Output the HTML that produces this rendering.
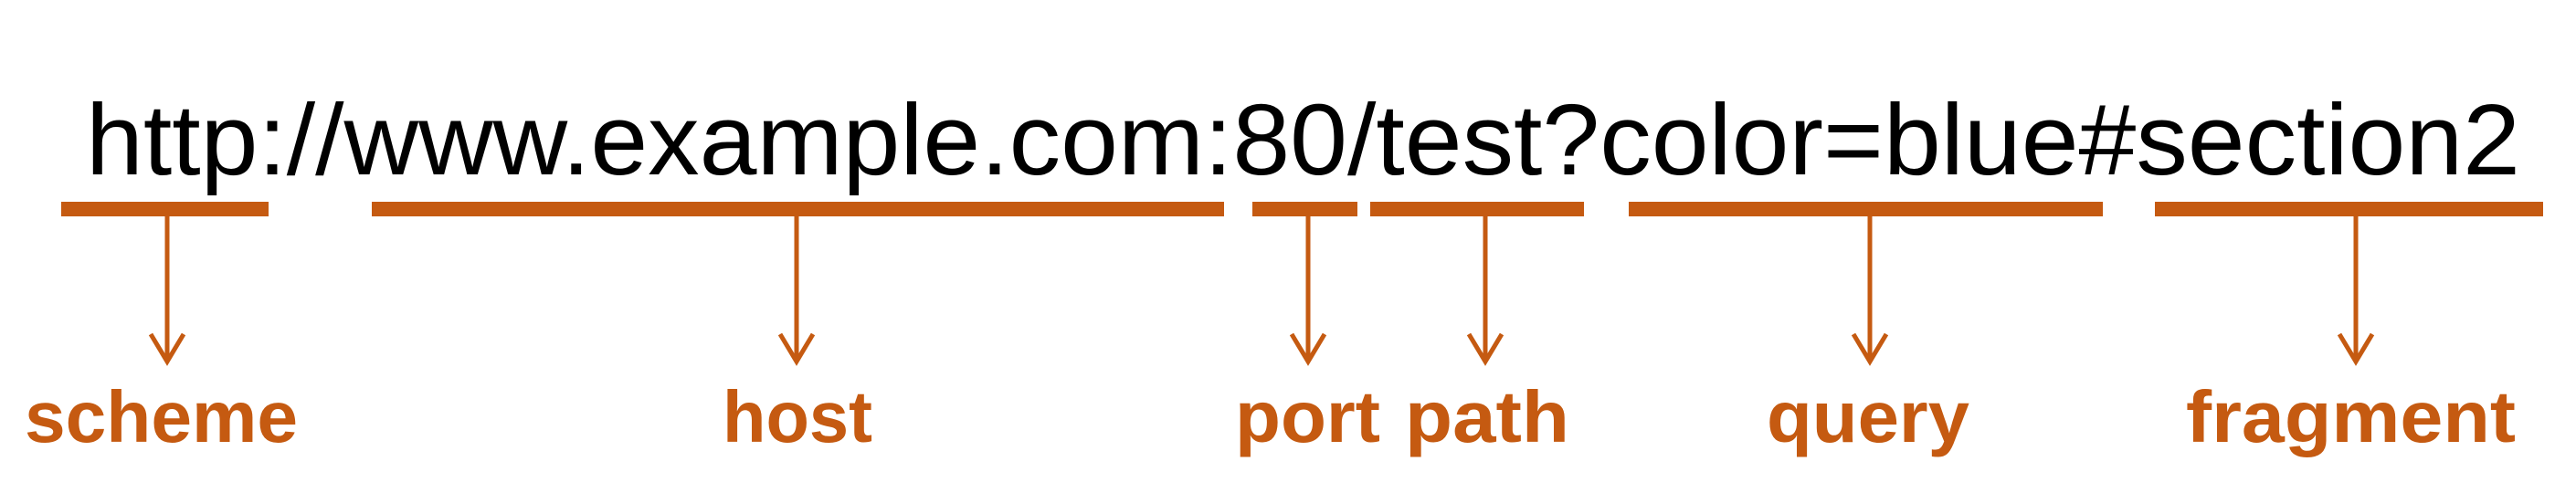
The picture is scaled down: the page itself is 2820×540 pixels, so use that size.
<!DOCTYPE html>
<html><head><meta charset="utf-8"><style>
html,body{margin:0;padding:0;background:#fff;}
svg{display:block;}
</style></head><body>
<svg width="2820" height="540" viewBox="0 0 2820 540" xmlns="http://www.w3.org/2000/svg">
<rect width="2820" height="540" fill="#fff"/>
<text x="94" y="191" font-family="Liberation Sans, sans-serif" font-size="110" fill="#000" textLength="2665" lengthAdjust="spacingAndGlyphs">http://www.example.com:80/test?color=blue#section2</text>
<g fill="#C55A11">
<rect x="67" y="221" width="227" height="16"/>
<rect x="407" y="221" width="933" height="16"/>
<rect x="1371" y="221" width="115" height="16"/>
<rect x="1500" y="221" width="234" height="16"/>
<rect x="1783" y="221" width="519" height="16"/>
<rect x="2359" y="221" width="425" height="16"/>
</g>
<g stroke="#C55A11" stroke-width="5" fill="none">
<path d="M183 237V396M165 366L183 396L201 366"/>
<path d="M872 237V396M854 366L872 396L890 366"/>
<path d="M1432 237V396M1414 366L1432 396L1450 366"/>
<path d="M1626 237V396M1608 366L1626 396L1644 366"/>
<path d="M2047 237V396M2029 366L2047 396L2065 366"/>
<path d="M2579 237V396M2561 366L2579 396L2597 366"/>
</g>
<g font-family="Liberation Sans, sans-serif" font-weight="bold" font-size="80" fill="#C55A11">
<text x="27" y="484" textLength="299" lengthAdjust="spacingAndGlyphs">scheme</text>
<text x="791" y="484" textLength="164" lengthAdjust="spacingAndGlyphs">host</text>
<text x="1352" y="484" textLength="159" lengthAdjust="spacingAndGlyphs">port</text>
<text x="1538" y="484" textLength="180" lengthAdjust="spacingAndGlyphs">path</text>
<text x="1934" y="484" textLength="222" lengthAdjust="spacingAndGlyphs">query</text>
<text x="2393" y="484" textLength="361" lengthAdjust="spacingAndGlyphs">fragment</text>
</g>
</svg>
</body></html>
